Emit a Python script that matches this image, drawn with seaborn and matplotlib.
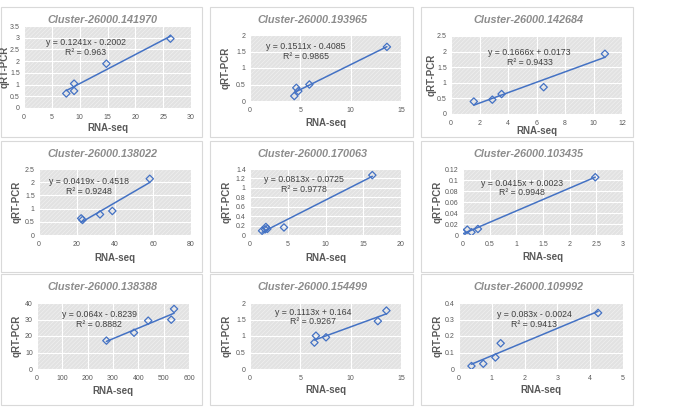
import numpy as np
import pandas as pd
import matplotlib
matplotlib.use('Agg')
import matplotlib.pyplot as plt
from matplotlib.patches import Rectangle
import seaborn as sns

# dados (RNA-seq x qRT-PCR)
titulos = ['Cluster-26000.141970', 'Cluster-26000.193965', 'Cluster-26000.142684',
           'Cluster-26000.138022', 'Cluster-26000.170063', 'Cluster-26000.103435',
           'Cluster-26000.138388', 'Cluster-26000.154499', 'Cluster-26000.109992']

rna_seq = [
    [7.6, 9.0, 9.0, 14.8, 26.3],
    [4.4, 4.6, 4.8, 5.9, 13.6],
    [1.6, 2.9, 3.55, 6.5, 10.8],
    [22.2, 22.9, 32.1, 38.6, 58.3],
    [1.6, 2.0, 2.1, 2.3, 4.5, 16.2],
    [0.0, 0.08, 0.16, 0.28, 2.48],
    [274, 383, 439, 530, 541],
    [6.4, 6.55, 7.55, 12.7, 13.55],
    [0.38, 0.74, 1.11, 1.27, 4.24],
]
qrt_pcr = [
    [0.62, 1.04, 0.73, 1.89, 2.96],
    [0.15, 0.4, 0.3, 0.5, 1.64],
    [0.4, 0.46, 0.64, 0.86, 1.93],
    [0.63, 0.57, 0.78, 0.91, 2.13],
    [0.09, 0.12, 0.17, 0.13, 0.16, 1.27],
    [0.004, 0.0097, 0.005, 0.011, 0.105],
    [17.2, 22.0, 29.3, 29.9, 36.4],
    [0.8, 1.01, 0.96, 1.45, 1.77],
    [0.018, 0.032, 0.07, 0.156, 0.34],
]

# equacoes da linha de tendencia mostradas no grafico
inclinacao = [0.1241, 0.1511, 0.1666, 0.0419, 0.0813, 0.0415, 0.064, 0.1113, 0.083]
intercepto = [-0.2002, -0.4085, 0.0173, -0.4518, -0.0725, 0.0023, -0.8239, 0.164, -0.0024]
r2 = ['0.963', '0.9865', '0.9433', '0.9248', '0.9778', '0.9948', '0.8882', '0.9267', '0.9413']
equacoes = ['y = 0.1241x - 0.2002', 'y = 0.1511x - 0.4085', 'y = 0.1666x + 0.0173',
            'y = 0.0419x - 0.4518', 'y = 0.0813x - 0.0725', 'y = 0.0415x + 0.0023',
            'y = 0.064x - 0.8239', 'y = 0.1113x + 0.164', 'y = 0.083x - 0.0024']

xlims = [(0, 30), (0, 15), (0, 12), (0, 80), (0, 20), (0, 3), (0, 600), (0, 15), (0, 5)]
xpassos = [5, 5, 2, 20, 5, 0.5, 100, 5, 1]
ylims = [(0, 3.5), (0, 2), (0, 2.5), (0, 2.5), (0, 1.4), (0, 0.12), (0, 40), (0, 2), (0, 0.4)]
ypassos = [0.5, 0.5, 0.5, 0.5, 0.2, 0.02, 10, 0.5, 0.1]

# layout em pixels (x0, x1, y_topo, y_base) da area de plotagem
areas = [(24, 191, 26, 108), (250, 401, 35, 101), (451, 622, 36, 114),
         (39, 191, 169, 235), (250, 401, 169, 235), (463, 623, 169, 235),
         (37, 189, 303, 369), (250, 401, 303, 369), (459, 623, 303, 369)]
caixas_x = [(1, 202), (210, 413), (421, 633)]
caixas_y = [(7, 137), (141, 272), (274, 405)]
titulo_x = [102, 312, 528]
titulo_y = [20, 154, 287]
ylabel_x = [5, 226, 432, 17, 227, 438, 17, 227, 438]
xlabel_y = [128, 123, 131, 258, 258, 257, 391, 390, 390]
eq_pos = [(0.37, 0.74), (0.37, 0.75), (0.46, 0.72), (0.33, 0.73), (0.36, 0.77),
          (0.37, 0.71), (0.41, 0.75), (0.42, 0.79), (0.46, 0.75)]

sns.set_style('white')
plt.rcParams['font.family'] = ['Liberation Sans', 'DejaVu Sans']
plt.rcParams['hatch.linewidth'] = 0.35

W, H = 685, 413
fig = plt.figure(figsize=(6.85, 4.13), dpi=100)
azul = '#4472C4'
cinza_txt = '#595959'

# caixas de cada grafico
for (bx0, bx1) in caixas_x:
    for (by0, by1) in caixas_y:
        fig.patches.append(Rectangle((bx0 / W, 1 - by1 / H), (bx1 - bx0) / W, (by1 - by0) / H,
                                     transform=fig.transFigure, facecolor='white',
                                     edgecolor='#d9d9d9', lw=0.8, zorder=-5))

for i in range(9):
    x0, x1, yt, yb = areas[i]
    ax = fig.add_axes([x0 / W, 1 - yb / H, (x1 - x0) / W, (yb - yt) / H])
    ax.set_facecolor('#e2e2e2')
    ax.add_patch(Rectangle((0, 0), 1, 1, transform=ax.transAxes, facecolor='none',
                           edgecolor='#f4f4f4', hatch='////////', lw=0, zorder=0))

    df = pd.DataFrame({'RNA-seq': rna_seq[i], 'qRT-PCR': qrt_pcr[i]})
    xs = np.array([df['RNA-seq'].min(), df['RNA-seq'].max()])
    linha = pd.DataFrame({'x': xs, 'y': inclinacao[i] * xs + intercepto[i]})
    sns.lineplot(data=linha, x='x', y='y', ax=ax, color=azul, lw=1.1, zorder=3)
    sns.scatterplot(data=df, x='RNA-seq', y='qRT-PCR', ax=ax, marker='D', s=14,
                    facecolor='none', edgecolor=azul, linewidth=0.9, zorder=4)

    ax.set_xlim(*xlims[i])
    ax.set_ylim(*ylims[i])
    ax.set_xticks(np.arange(xlims[i][0], xlims[i][1] + xpassos[i] / 2, xpassos[i]))
    ax.set_yticks(np.arange(ylims[i][0], ylims[i][1] + ypassos[i] / 2, ypassos[i]))
    ax.xaxis.set_major_formatter(plt.FuncFormatter(lambda v, p: f'{v:g}'))
    ax.yaxis.set_major_formatter(plt.FuncFormatter(lambda v, p: f'{v:g}'))
    ax.tick_params(length=0, labelsize=5, colors=cinza_txt, pad=4)
    ax.tick_params(axis='y', pad=3)
    ax.grid(True, color='white', lw=0.8)
    ax.set_axisbelow(True)
    for s in ax.spines.values():
        s.set_visible(False)

    ax.set_xlabel('RNA-seq', fontsize=7, fontweight='bold', color=cinza_txt, va='center')
    ax.xaxis.set_label_coords(0.5, (yb - xlabel_y[i]) / (yb - yt))
    ax.set_ylabel('qRT-PCR', fontsize=7, fontweight='bold', color=cinza_txt, va='center')
    ax.yaxis.set_label_coords((ylabel_x[i] - x0) / (x1 - x0), 0.5)

    ax.text(eq_pos[i][0], eq_pos[i][1], f'{equacoes[i]}\nR² = {r2[i]}', transform=ax.transAxes,
            ha='center', va='center', multialignment='center', fontsize=6.3,
            color='#404040', linespacing=1.1, zorder=5)

    col, lin = i % 3, i // 3
    fig.text(titulo_x[col] / W, 1 - titulo_y[lin] / H, titulos[i], ha='center', va='center',
             fontsize=7.8, fontweight='bold', style='italic', color='#8c8c8c')

fig.savefig('out.png', dpi=100)
